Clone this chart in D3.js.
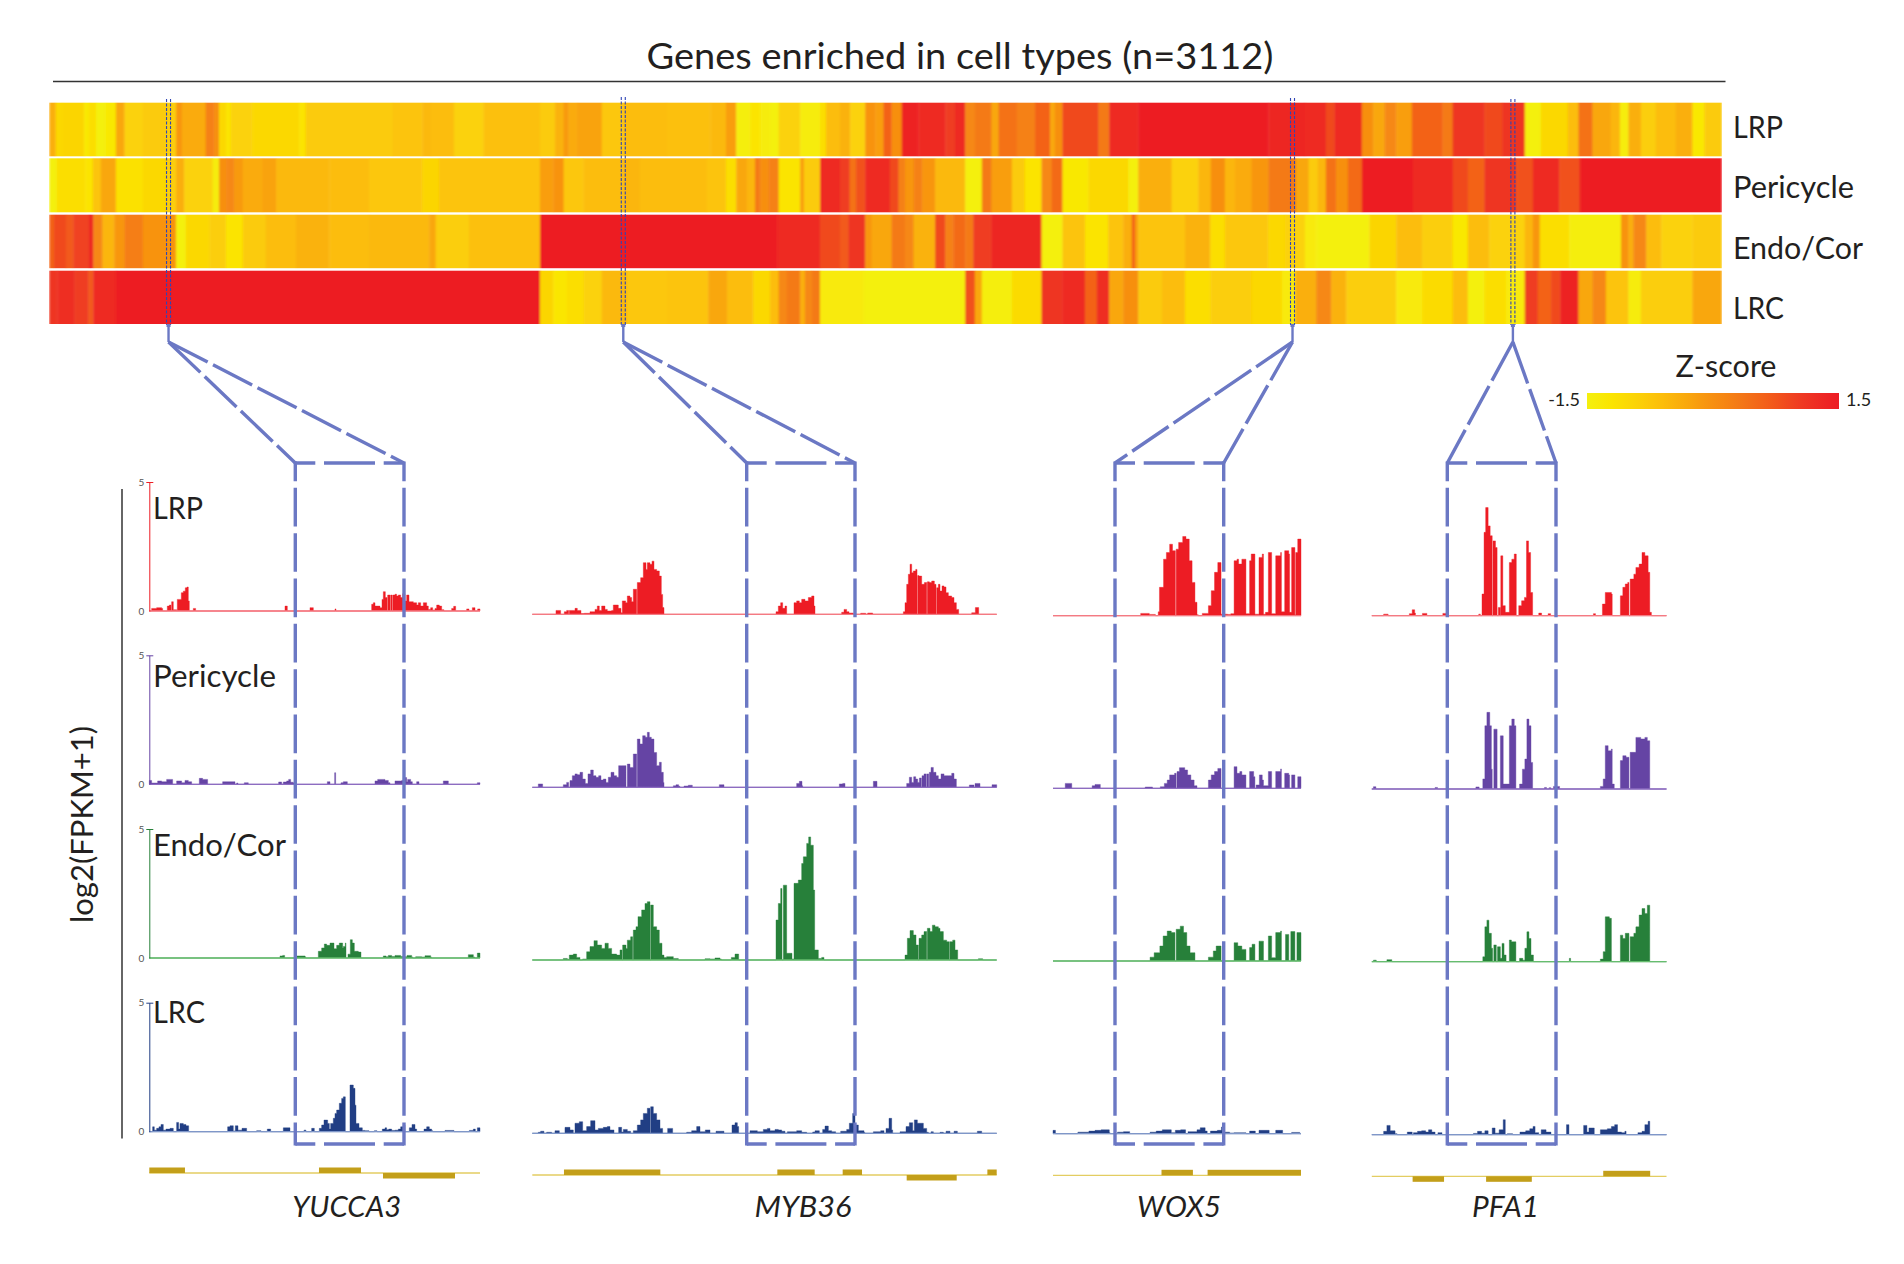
<!DOCTYPE html>
<html><head><meta charset="utf-8">
<script src="https://cdn.jsdelivr.net/npm/d3@7/dist/d3.min.js"></script>
<style>html,body{margin:0;padding:0;background:#fff}svg{display:block}text{font-family:"Lato","Open Sans",sans-serif;fill:#231f20}</style>
</head><body><div id="chart"></div>
<script>
const title="Genes enriched in cell types (n=3112)";
const cellTypes=["LRP","Pericycle","Endo/Cor","LRC"];
const genes=["YUCCA3","MYB36","WOX5","PFA1"];
const geneCount=3112;
const selectedRanks=[222,1068,2313,2723];
const zTicks=[-1.5,1.5];

// heatmap: [last gene rank of the run, z-score]
const heatLRP=[[12,-.4],[25,-1],[65,-.95],[74,-1.3],[87,-1.1],[105,-1.5],[124,-1.3],[140,-.3],[174,-.9],[217,-.8],[236,-.85],[247,-.1],[291,-.35],[307,.2],[316,0],[329,-1],[338,-1.2],[378,-.9],[465,-1],[477,-1.2],[639,-.8],[694,-.7],[710,-.55],[753,-.6],[808,-.9],[913,-.65],[941,-.8],[957,-.45],[966,-.15],[982,-.35],[1028,-.25],[1068,-.75],[1149,-.6],[1230,-.65],[1259,-.55],[1278,-.2],[1304,-1.45],[1323,-1.2],[1341,-1.4],[1357,-1.5],[1397,-.9],[1434,-1.4],[1445,-1.1],[1471,-.6],[1490,-.45],[1518,-.9],[1537,-.05],[1552,-.2],[1567,.6],[1586,0],[1617,1.4],[1667,1.25],[1685,1],[1704,1.3],[1722,.1],[1753,.3],[1766,-.3],[1800,.4],[1834,.2],[1862,.6],[1871,-.3],[1885,0],[1952,.9],[1972,.3],[2026,1.3],[2268,1.5],[2336,1.35],[2375,1.3],[2391,.9],[2442,1.25],[2463,0],[2484,-.3],[2506,.1],[2535,-.2],[2592,.6],[2611,.3],[2670,1.1],[2704,.9],[2745,1.1],[2775,-1.5],[2825,-1],[2845,-.6],[2871,.4],[2905,-.3],[2922,-.5],[2938,-1.4],[2961,-.4],[2989,-.85],[3026,-.6],[3057,-.4],[3079,-1.3],[3112,-.8]];
const heatPericycle=[[14,-1.5],[67,-1.1],[81,-1.2],[96,-.7],[124,-.3],[174,-1.15],[217,-1],[236,-.85],[251,-.4],[304,-.9],[316,-1.4],[329,0],[344,.1],[360,-.15],[397,-.35],[422,-.25],[521,-.55],[595,-.6],[694,-.75],[725,-.95],[781,-.7],[913,-.7],[938,-.2],[957,-.05],[994,-.75],[1068,-.6],[1099,-.5],[1223,-.6],[1259,-.7],[1278,-1.1],[1298,-.3],[1313,-.5],[1323,.3],[1338,0],[1357,.2],[1397,-1.2],[1404,-.2],[1434,-.8],[1471,1.3],[1489,1],[1501,.4],[1518,.8],[1564,1.3],[1580,.9],[1592,.2],[1608,-.1],[1624,.2],[1648,-.1],[1704,-.55],[1735,-1.5],[1753,.3],[1791,-.2],[1815,-.8],[1846,-1.2],[1865,.1],[1885,.5],[1933,-1.3],[2008,-1],[2026,-1.5],[2088,-.4],[2138,-.9],[2161,-.5],[2187,0],[2206,-.5],[2237,-.35],[2268,-.1],[2319,.3],[2343,-.3],[2360,-.8],[2375,-.5],[2394,.4],[2416,0],[2442,.5],[2537,1.45],[2611,1.3],[2639,.9],[2670,.6],[2729,1.1],[2760,.8],[2809,1.25],[2847,.8],[3112,1.45]];
const heatEndoCor=[[9,.6],[31,.9],[45,.7],[74,.95],[82,1.35],[99,.1],[121,-.5],[140,-.1],[174,.25],[236,-.05],[254,-1.5],[298,-1],[329,-.85],[360,-1.2],[403,-.8],[459,-.6],[521,-.45],[595,-.6],[707,-.55],[719,-.3],[781,-.85],[913,-.65],[1354,1.5],[1434,1.3],[1471,.9],[1487,.7],[1518,1.1],[1530,-.1],[1567,-.3],[1592,.3],[1608,.1],[1648,-.45],[1667,.9],[1682,.2],[1704,.5],[1719,.3],[1753,1],[1846,1.35],[1885,-1.5],[1927,-.7],[1970,-1.2],[1998,-.7],[2014,-.4],[2020,.6],[2026,-.2],[2113,-.7],[2160,-.45],[2187,-1.1],[2268,-.75],[2299,-1],[2336,-.9],[2357,-1.35],[2456,-1.5],[2506,-.95],[2554,-.6],[2611,-.85],[2639,-1.3],[2679,-.6],[2745,-.9],[2760,-.5],[2773,-.1],[2828,-1.1],[2924,-1.45],[2938,-.05],[2947,-.4],[2971,.1],[2999,-.6],[3057,-.9],[3112,-.8]];
const heatLRC=[[15,1.1],[47,1.2],[73,1],[82,.7],[124,1.3],[913,1.5],[938,-.95],[963,-1.25],[994,-1.1],[1028,-.9],[1075,-.55],[1149,-.75],[1226,-.7],[1261,-.3],[1310,-.6],[1341,-1],[1357,-.6],[1372,.1],[1397,.3],[1406,-.4],[1419,.1],[1434,.3],[1515,-1.35],[1704,-1.5],[1722,.8],[1735,-.3],[1791,-1.45],[1846,-1.05],[1885,1.1],[1927,1.25],[1949,.6],[1972,1.2],[1998,-.3],[2026,0],[2070,-.8],[2113,-.6],[2160,-1.1],[2237,-.85],[2293,-1],[2318,-1.35],[2357,-.4],[2385,.1],[2413,-.45],[2506,-.85],[2554,-1.35],[2611,-1.05],[2639,-.6],[2670,-1.5],[2710,-1.1],[2745,-1.35],[2769,1],[2794,.6],[2811,.9],[2845,1.4],[2871,-.3],[2896,.1],[2938,-.7],[2961,-1.4],[3057,-.85],[3112,-.3]];

// coverage: [genomic position, log2(FPKM+1)], held until the next position
const yuccaLRP=[[275,.1],[290,.13],[305,.1],[308,0],[322,.19],[328,.23],[333,0],[335,.36],[340,.05],[350,0],[352,.45],[358,.45],[364,.71],[370,.77],[376,.9],[381,.93],[385,.39],[388,0],[400,.1],[407,0],[675,.19],[682,0],[750,.13],[760,0],[825,.08],[828,0],[935,.26],[940,.32],[945,.19],[960,.13],[966,.45],[970,.75],[976,.52],[981,0],[983,.62],[990,0],[992,.62],[997,0],[999,.62],[1005,.65],[1010,.58],[1015,.62],[1022,.52],[1028,.67],[1035,.39],[1040,.62],[1047,.36],[1060,.32],[1070,.23],[1075,.32],[1082,.19],[1090,.32],[1100,.19],[1105,.06],[1112,.13],[1118,.04],[1125,.1],[1130,.23],[1138,.19],[1145,.05],[1152,0],[1175,.1],[1181,.18],[1187,0],[1220,.08],[1227,0],[1237,.13],[1245,0],[1253,.08],[1260,0]];
const yuccaPericycle=[[268,.15],[275,.05],[293,.13],[305,.1],[320,.19],[332,.19],[338,0],[350,.13],[365,.06],[375,.15],[385,.1],[395,0],[418,.23],[428,.19],[435,.19],[443,0],[488,.1],[525,0],[530,.05],[534,0],[553,.06],[565,0],[656,.09],[665,0],[670,.09],[680,.13],[686,.19],[692,.08],[700,.05],[708,0],[802,.1],[810,0],[824,.45],[827,0],[843,.06],[850,.1],[862,0],[945,.13],[953,.19],[975,.15],[985,.06],[990,0],[1005,.13],[1025,.15],[1030,.26],[1040,.1],[1043,.19],[1052,.1],[1057,0],[1070,.1],[1077,0],[1150,.13],[1165,0],[1252,.06],[1260,0]];
const yuccaEndoCor=[[660,.08],[668,.1],[674,0],[708,.08],[735,.05],[737,0],[775,.26],[785,.39],[793,.54],[800,.49],[810,.58],[822,.36],[830,.49],[838,.58],[848,.39],[850,.45],[856,.58],[858,0],[864,.15],[871,.71],[877,.58],[883,.26],[895,.23],[903,0],[970,.08],[978,.05],[985,.1],[995,.06],[1005,.1],[1022,.06],[1035,.05],[1041,.1],[1055,.04],[1058,0],[1067,.05],[1085,.04],[1095,.09],[1112,.04],[1114,0],[1225,.13],[1240,.04],[1244,0],[1252,.19],[1260,0]];
const yuccaLRC=[[278,.19],[283,.06],[290,.13],[297,.19],[303,.28],[310,.06],[318,.1],[330,.13],[340,0],[350,.36],[356,.1],[360,.32],[370,.28],[378,.23],[386,0],[503,.19],[510,.23],[520,.03],[526,.23],[534,.06],[546,.13],[560,0],[590,.04],[603,0],[622,.1],[632,0],[670,.15],[690,0],[732,.06],[738,0],[755,.13],[763,0],[778,.13],[785,.26],[792,.45],[803,.32],[808,.1],[812,.32],[820,.52],[825,.71],[830,.84],[838,1.1],[845,1.29],[850,1.35],[856,0],[870,1.81],[880,1.68],[885,1.03],[888,.32],[897,.15],[907,.05],[915,.04],[927,0],[943,.04],[951,0],[967,.1],[975,.15],[980,.08],[986,.1],[995,.05],[1005,.06],[1015,.1],[1022,.19],[1030,.26],[1035,0],[1048,.15],[1056,.28],[1065,.1],[1070,0],[1092,.1],[1100,.19],[1108,.1],[1115,.04],[1118,0],[1155,.05],[1182,0],[1228,.05],[1240,.1],[1246,0],[1252,.15],[1260,0]];

const mybLRP=[[108,.15],[122,0],[133,.1],[140,.15],[146,0],[148,.15],[160,.15],[165,.23],[172,.15],[183,.03],[193,.04],[210,.1],[225,.19],[232,.32],[238,.15],[245,.32],[255,.19],[262,.13],[275,.15],[280,.36],[290,.36],[295,.23],[303,.06],[307,.52],[317,.45],[322,.71],[330,.65],[335,.49],[340,.97],[350,0],[352,1.23],[362,1.42],[370,2],[378,1.74],[382,2],[390,1.94],[396,2.06],[402,1.74],[410,1.68],[418,1.48],[424,.77],[428,.26],[432,0],[768,.1],[775,.32],[782,.45],[788,.23],[795,.32],[800,0],[822,.45],[830,.52],[838,.45],[845,.58],[855,.52],[865,.65],[875,.71],[882,.32],[885,0],[965,.08],[972,.19],[980,.1],[987,.05],[1000,0],[1022,.04],[1037,0],[1043,.05],[1058,0],[1150,.1],[1155,.45],[1160,1.16],[1165,1.55],[1170,1.94],[1175,1.61],[1180,1.68],[1187,1.74],[1191,0],[1193,1.5],[1197,1.48],[1205,1.16],[1213,1.23],[1220,0],[1222,1.26],[1228,1.23],[1235,1.29],[1243,1.16],[1248,0],[1250,1.03],[1255,1.16],[1260,.9],[1266,1.1],[1272,1.06],[1278,.84],[1285,.71],[1295,.65],[1302,.45],[1309,.19],[1316,0],[1355,.06],[1366,.26],[1376,0]];
const mybPericycle=[[55,.13],[68,0],[130,.1],[140,.19],[146,0],[150,.26],[157,.45],[165,.52],[172,.49],[180,.58],[188,.32],[196,.15],[204,.52],[212,.67],[220,.45],[228,.39],[236,.45],[243,.28],[250,.32],[258,.19],[265,.39],[273,.58],[282,.45],[290,.39],[296,.84],[304,.84],[318,0],[322,.9],[330,.77],[340,1.29],[350,0],[352,1.87],[360,1.68],[368,2],[376,1.94],[382,2.13],[388,1.94],[394,1.87],[402,1.35],[410,.84],[418,.97],[424,.58],[430,.19],[432,0],[460,.06],[468,.1],[476,.04],[480,0],[492,.05],[505,.08],[517,0],[598,.1],[612,0],[830,.15],[838,.23],[846,.06],[848,0],[958,.13],[968,.15],[975,0],[1060,.23],[1071,0],[1160,.15],[1168,.39],[1175,.19],[1181,.41],[1187,.32],[1193,.19],[1198,.36],[1204,0],[1206,.45],[1212,.52],[1218,0],[1220,.52],[1226,0],[1228,.58],[1233,.77],[1240,.58],[1248,.45],[1255,.32],[1263,.52],[1272,.45],[1285,.45],[1295,.54],[1302,.32],[1309,0],[1348,.09],[1362,0],[1365,.15],[1380,0],[1416,.1],[1430,0]];
const mybEndoCor=[[130,.06],[142,.03],[148,.19],[160,.23],[170,.1],[180,0],[188,.04],[200,.32],[210,.52],[222,.75],[232,.58],[245,.45],[255,.65],[265,.45],[275,.23],[290,.19],[300,.39],[306,0],[308,.58],[318,.45],[322,.77],[332,.9],[338,0],[340,1.16],[348,1.29],[354,1.68],[365,1.94],[375,2.19],[382,2.26],[390,0],[392,2.13],[400,1.29],[410,1.16],[418,.65],[426,.19],[432,.1],[440,.13],[460,.06],[475,0],[555,.05],[570,.04],[585,.08],[600,.04],[604,0],[634,.1],[645,.23],[656,0],[768,1.55],[775,2.19],[782,2.77],[786,0],[790,2.9],[800,.26],[812,.26],[816,.04],[822,2.97],[835,3.1],[845,3.74],[850,4],[860,4.52],[866,4.77],[872,4.45],[880,2.71],[884,.39],[895,.06],[905,.1],[912,0],[1155,.19],[1162,.84],[1170,1.14],[1180,.97],[1188,.58],[1195,0],[1197,.84],[1205,.97],[1212,1.1],[1220,0],[1222,1.23],[1230,1.1],[1237,1.35],[1245,1.29],[1255,1.23],[1260,1.1],[1270,.77],[1280,.71],[1288,0],[1290,.71],[1298,.77],[1305,.39],[1313,0],[1375,.05],[1388,0]];
const mybLRC=[[55,.04],[62,.08],[72,0],[80,.04],[95,0],[105,.1],[118,0],[135,.23],[150,.13],[160,0],[165,.39],[178,.45],[188,.1],[200,.26],[212,.49],[225,.13],[235,.19],[250,.23],[262,.26],[270,.13],[282,0],[296,.23],[305,.05],[310,.15],[322,.08],[332,0],[340,.1],[352,.32],[362,.52],[370,.77],[382,.97],[390,0],[392,1.03],[400,.77],[410,.52],[420,.19],[428,0],[443,.19],[458,0],[500,.04],[515,.1],[530,.26],[540,.06],[556,.13],[570,0],[588,.08],[612,0],[636,.32],[645,.41],[652,.26],[656,0],[690,.1],[712,.06],[730,.15],[742,.19],[750,.1],[765,.15],[775,.13],[785,.08],[795,0],[802,.06],[830,.1],[845,.04],[860,0],[878,.05],[885,.1],[898,0],[908,.15],[915,.28],[925,.1],[935,.06],[947,0],[962,.08],[980,.15],[988,.39],[998,.77],[1005,0],[1008,.32],[1015,.1],[1032,.04],[1034,0],[1060,.06],[1082,.1],[1092,0],[1098,.19],[1107,.58],[1115,.13],[1118,0],[1140,.06],[1158,.26],[1168,.41],[1178,.1],[1183,.52],[1192,.39],[1200,.39],[1210,.19],[1220,.04],[1225,0],[1233,.06],[1240,0],[1260,.04],[1270,0],[1278,.08],[1290,0],[1302,.08],[1312,0],[1372,.08],[1385,0]];

const woxLRP=[[247,.09],[268,.05],[283,0],[290,.15],[293,1.1],[303,2.19],[310,2.45],[318,2.77],[325,2.52],[332,0],[334,2.58],[340,2.84],[350,3.07],[358,2.97],[366,2.13],[373,1.29],[380,.52],[385,.04],[388,0],[398,.09],[413,.39],[420,.97],[428,1.68],[436,2.06],[444,.06],[460,.05],[468,.08],[476,2.13],[483,2.19],[487,2],[495,2.19],[505,.08],[514,2.13],[518,2.39],[527,.06],[537,2.26],[545,2.39],[548,.06],[553,.13],[560,2.45],[568,.08],[578,2.32],[590,2.45],[592,.15],[600,2.52],[610,2.39],[612,.13],[617,2.64],[625,.04],[627,2.45],[632,2.97],[640,0]];
const woxPericycle=[[62,.19],[78,0],[128,.1],[135,.15],[148,0],[258,.05],[276,0],[295,.06],[305,.19],[312,.32],[318,.52],[330,.58],[334,0],[336,.65],[342,.8],[355,.71],[362,.52],[370,.32],[378,.1],[385,0],[413,.32],[420,.52],[428,.65],[436,.77],[444,0],[476,.84],[483,.58],[490,.65],[495,.52],[505,0],[514,.65],[524,.45],[527,0],[530,.13],[538,.52],[545,.32],[548,.1],[560,.65],[568,0],[578,.65],[590,.75],[592,0],[600,.58],[610,.52],[612,0],[617,.52],[625,0],[632,.45],[640,0]];
const woxEndoCor=[[270,.15],[280,.32],[294,.58],[302,.97],[312,1.16],[322,1.1],[331,0],[334,1.23],[344,1.35],[352,1.1],[360,.58],[368,.32],[380,0],[413,.15],[425,.39],[432,.58],[444,0],[476,.71],[485,.58],[495,.45],[505,0],[514,.52],[520,.65],[527,0],[537,.77],[548,0],[560,.97],[568,.13],[578,1.1],[590,1.16],[592,0],[602,1.03],[610,0],[615,1.14],[625,0],[630,1.1],[640,0]];
const woxLRC=[[32,.13],[38,0],[93,.06],[120,.1],[135,.13],[150,.15],[170,.04],[172,0],[190,.06],[205,.08],[220,0],[270,.06],[285,.1],[300,.15],[322,.04],[332,.13],[345,.15],[357,0],[363,.08],[385,.15],[393,.23],[405,.1],[410,0],[418,.1],[435,.13],[445,.26],[452,.06],[465,.03],[476,.04],[505,0],[514,.1],[528,0],[537,.13],[562,0],[578,.13],[595,0],[617,.05],[637,0]];

const pfaLRP=[[842,.06],[853,0],[905,.08],[912,.23],[918,.1],[920,0],[937,.09],[948,0],[987,.09],[998,0],[1075,.06],[1079,0],[1083,.84],[1088,3.23],[1092,4.19],[1098,3.48],[1103,3.1],[1108,0],[1110,2.9],[1116,2.64],[1120,0],[1123,.32],[1128,0],[1129,2.32],[1134,.39],[1140,.13],[1150,2.06],[1156,2.19],[1162,2.39],[1167,0],[1173,.39],[1180,.58],[1187,.71],[1192,2.9],[1197,2.45],[1202,.9],[1207,0],[1222,.1],[1229,0],[1245,.08],[1251,0],[1356,.08],[1361,0],[1378,.45],[1385,.9],[1400,.84],[1402,0],[1422,.77],[1428,1.1],[1434,1.23],[1440,1.29],[1443,0],[1446,1.42],[1455,1.61],[1460,1.87],[1468,2],[1475,2.45],[1482,2.32],[1490,1.68],[1494,.13],[1498,0]];
const pfaPericycle=[[817,.09],[823,0],[968,.06],[974,0],[1068,.08],[1076,0],[1085,.39],[1090,2.45],[1095,2.97],[1102,2.45],[1106,.77],[1108,0],[1112,2.32],[1120,0],[1128,2.06],[1135,.19],[1150,2.45],[1156,2.71],[1162,2.45],[1166,0],[1175,.19],[1182,.77],[1188,1.16],[1193,2.71],[1198,2.45],[1203,1.03],[1207,0],[1236,.06],[1241,0],[1247,.05],[1252,0],[1258,.1],[1273,0],[1373,.1],[1380,.39],[1385,1.68],[1392,1.48],[1400,1.55],[1402,.19],[1407,0],[1422,1.1],[1428,1.29],[1436,1.23],[1443,0],[1446,1.42],[1460,2],[1472,1.94],[1482,2],[1488,1.87],[1494,0]];
const pfaEndoCor=[[817,.06],[824,0],[850,.08],[862,0],[1085,.19],[1090,1.35],[1095,1.61],[1100,1.1],[1106,.52],[1109,0],[1112,.65],[1118,0],[1121,.58],[1128,.13],[1132,.71],[1137,.26],[1142,0],[1150,.84],[1155,.77],[1166,0],[1175,.13],[1183,.06],[1188,.52],[1193,1.16],[1198,.9],[1203,.26],[1209,0],[1297,.13],[1300,0],[1373,.1],[1380,.39],[1385,1.74],[1395,1.68],[1400,0],[1422,1.03],[1428,.9],[1434,1.1],[1443,0],[1446,.97],[1455,1.1],[1460,1.35],[1468,1.81],[1475,2.06],[1482,1.87],[1488,2.19],[1494,0]];
const pfaLRC=[[842,.13],[850,.36],[858,.15],[870,.04],[875,0],[900,.1],[912,0],[915,.08],[925,.13],[935,.15],[945,.1],[952,.19],[960,.1],[968,0],[975,.08],[985,0],[1062,.05],[1072,.13],[1082,.06],[1090,.15],[1098,0],[1108,.26],[1115,.06],[1125,.19],[1135,.58],[1140,0],[1145,.04],[1158,0],[1176,.1],[1190,.15],[1200,.23],[1208,.32],[1213,.08],[1222,0],[1228,.19],[1240,.1],[1252,0],[1290,.39],[1296,0],[1332,.36],[1340,.1],[1345,.26],[1358,0],[1373,.19],[1390,.23],[1400,.32],[1408,.39],[1415,.1],[1425,.08],[1433,.13],[1436,0],[1465,.08],[1475,.13],[1482,.39],[1490,.52],[1494,0]];

// gene models: [start, end, strand] in the same genomic positions
const yuccaExons=[[268,375,1],[777,903,1],[969,1185,-1]];
const mybExons=[[132,421,1],[772,884,1],[968,1026,1],[1402,1430,1],[1160,1310,-1]];
const woxExons=[[298,375,1],[411,640,1]];
const pfaExons=[[1380,1495,1],[913,990,-1],[1093,1205,-1]];
const regions=[[268,1260],[37,1430],[32,640],[813,1535]];

const heatRows=[heatLRP,heatPericycle,heatEndoCor,heatLRC];
const coverage=[[yuccaLRP,yuccaPericycle,yuccaEndoCor,yuccaLRC],[mybLRP,mybPericycle,mybEndoCor,mybLRC],[woxLRP,woxPericycle,woxEndoCor,woxLRC],[pfaLRP,pfaPericycle,pfaEndoCor,pfaLRC]];
const exons=[yuccaExons,mybExons,woxExons,pfaExons];

const svg=d3.select("#chart").append("svg").attr("width",1904).attr("height",1264);
const boxCol="#6b78c4";
const fit=(sel,w)=>sel.attr("textLength",w).attr("lengthAdjust","spacingAndGlyphs");
const defs=svg.append("defs");
const soft=defs.append("filter").attr("id","soft").attr("x",0).attr("y",0).attr("width",1).attr("height",1);
soft.append("feGaussianBlur").attr("stdDeviation","1.1 0").attr("edgeMode","duplicate");

// title
fit(svg.append("text").attr("x",960).attr("y",69).attr("text-anchor","middle").attr("font-size",37).text(title),627);
svg.append("line").attr("x1",53).attr("x2",1725.5).attr("y1",81.5).attr("y2",81.5).attr("stroke","#333").attr("stroke-width",1.5);

// heatmap
const heatX=d3.scaleLinear().domain([0,geneCount]).range([49.2,1722]);
const heatTops=[102.7,158.3,214.7,270.7], heatH=[53.6,54,53.5,53.3];
const zColor=d3.scaleLinear()
  .domain([-1.5,-1.2,-.9,-.65,-.4,-.1,.3,.7,1.1,1.5])
  .range(["#f4f00f","#fbe400","#fbd207","#fcc00a","#faaf0c","#f8960f","#f47a16","#f25a1a","#ee3523","#ed1c24"]);
heatRows.forEach((row,i)=>{
  const g=svg.append("g").attr("filter","url(#soft)");
  g.selectAll("rect").data(row).join("rect")
    .attr("x",(d,j)=>heatX(j?row[j-1][0]:0))
    .attr("width",(d,j)=>heatX(d[0])-heatX(j?row[j-1][0]:0)+(j<row.length-1?.4:0))
    .attr("y",heatTops[i]).attr("height",heatH[i])
    .attr("fill",d=>zColor(d[1]));
  fit(svg.append("text").attr("x",1733).attr("y",[138,198,259,319][i]).attr("font-size",30).text(cellTypes[i]),[50,121,130,51][i]);
});

// selected genes
selectedRanks.forEach((r,i)=>{
  const cx=heatX(r), top=[99,97,98,99][i];
  [-2,2].forEach(o=>svg.append("line").attr("x1",cx+o).attr("x2",cx+o).attr("y1",top).attr("y2",325)
     .attr("stroke","#2f45b5").attr("stroke-width",1.1).attr("stroke-dasharray","3 1.5"));
  svg.append("rect").attr("x",cx-2).attr("y",324).attr("width",4).attr("height",3).attr("fill",boxCol);
  svg.append("line").attr("x1",cx).attr("x2",cx).attr("y1",326).attr("y2",342).attr("stroke",boxCol).attr("stroke-width",2.4);
});

// coverage panels
const rowBase=[[611,784.3,958,1131.7],[614.3,787.3,960,1133.3],[615.7,788.3,961,1133.7],[615.7,789,961.7,1134.7]];
const colRange=[[149.3,480],[532.3,996.7],[1053,1301],[1371.8,1666.5]];
const fills=["#ed1c24","#6544a4","#27803a","#213e84"], lines=["#f47a83","#8d6cc1","#66bd6e","#7f97c9"];
const geneLine=[1173,1175,1175.3,1176.3];
const boxPx=[[295.3,404],[746.7,855],[1115,1223.7],[1447.3,1556]];
const geneCenter=[346.7,803,1179,1505.5], geneW=[109,97,84,67];
coverage.forEach((tracks,c)=>{
  const x=d3.scaleLinear().domain(regions[c]).range(colRange[c]);
  tracks.forEach((vals,r)=>{
    const y=d3.scaleLinear().domain([0,5]).range([rowBase[c][r],rowBase[c][r]-129]);
    const pts=[[regions[c][0],0],...vals,[regions[c][1],0]];
    svg.append("path").datum(pts).attr("fill",fills[r]).attr("stroke",fills[r]).attr("stroke-width",.4)
      .attr("d",d3.area().curve(d3.curveStepAfter).x(d=>x(d[0])).y0(y(0)).y1(d=>y(d[1])));
    svg.append("line").attr("x1",colRange[c][0]).attr("x2",colRange[c][1]).attr("y1",y(0)).attr("y2",y(0))
      .attr("stroke",lines[r]).attr("stroke-width",1.3);
    if(c===0){
      const ax=svg.append("g").attr("transform",`translate(${colRange[0][0]},0)`)
        .call(d3.axisLeft(y).tickValues([0,5]).tickFormat(d3.format("d")).tickSize(3).tickSizeOuter(0).tickPadding(2));
      ax.select(".domain").attr("stroke",fills[r]).attr("stroke-width",1);
      ax.selectAll(".tick line").attr("stroke",(d)=>d?fills[r]:"none").attr("x2",4).attr("x1",-3);
      ax.selectAll(".tick text").attr("font-size",10).attr("x",-5).style("fill","#555").attr("font-family","Lato,sans-serif");
      fit(svg.append("text").attr("x",153).attr("y",[519,687,856,1022.7][r]).attr("font-size",31).text(cellTypes[r]),[50,123,133,52][r]);
    }
  });
  // gene model
  const gy=geneLine[c];
  svg.append("line").attr("x1",colRange[c][0]).attr("x2",colRange[c][1]).attr("y1",gy).attr("y2",gy).attr("stroke","#e3cd62").attr("stroke-width",1.3);
  svg.append("g").selectAll("rect").data(exons[c]).join("rect")
    .attr("x",d=>x(d[0])).attr("width",d=>x(d[1])-x(d[0]))
    .attr("y",d=>d[2]>0?gy-5.5:gy).attr("height",5.5).attr("fill","#c39f1a");
  fit(svg.append("text").attr("x",geneCenter[c]).attr("y",1216.7).attr("text-anchor","middle").attr("font-size",29).attr("font-style","italic").text(genes[c]),geneW[c]);
});

// zoom boxes and connectors
boxPx.forEach((b,i)=>{
  const top=463, bot=1144, w=3.4;
  const cx=heatX(selectedRanks[i]);
  const st=(s)=>s.attr("stroke",boxCol).attr("stroke-width",w).attr("fill","none");
  [b[0],b[1]].forEach(v=>st(svg.append("line").attr("x1",v).attr("x2",v).attr("y1",top-1.5).attr("y2",bot+1.5)).attr("stroke-dasharray","38.7 6.63").attr("stroke-dashoffset",19));
  [top,bot].forEach(yy=>st(svg.append("line").attr("x1",b[0]).attr("x2",b[1]).attr("y1",yy).attr("y2",yy)).attr("stroke-dasharray","51 8.7").attr("stroke-dashoffset",31));
  [b[0],b[1]].forEach(tx=>st(svg.append("line").attr("x1",cx).attr("y1",342).attr("x2",tx).attr("y2",top)).attr("stroke-dasharray","44 6"));
});

// y label and bar
svg.append("line").attr("x1",122).attr("x2",122).attr("y1",489).attr("y2",1138.5).attr("stroke","#333").attr("stroke-width",1.5);
fit(svg.append("text").attr("transform","translate(93,824.5) rotate(-90)").attr("text-anchor","middle").attr("font-size",31).text("log2(FPKM+1)"),197);

// legend
const grad=defs.append("linearGradient").attr("id","zg");
d3.range(0,1.001,.05).forEach(t=>grad.append("stop").attr("offset",t).attr("stop-color",zColor(-1.5+3*t)));
const legX=d3.scaleLinear().domain([-1.5,1.5]).range([1587,1839]);
svg.append("rect").attr("x",legX(-1.5)).attr("y",393).attr("width",legX(1.5)-legX(-1.5)).attr("height",16).attr("fill","url(#zg)");
fit(svg.append("text").attr("x",1726).attr("y",377).attr("text-anchor","middle").attr("font-size",30).text("Z-score"),101);
svg.selectAll(".zt").data(zTicks).join("text").attr("class","zt")
  .attr("x",d=>d<0?legX(d)-7:legX(d)+7).attr("y",406).attr("text-anchor",d=>d<0?"end":"start").attr("font-size",18)
  .text(d=>String(d));
</script></body></html>
